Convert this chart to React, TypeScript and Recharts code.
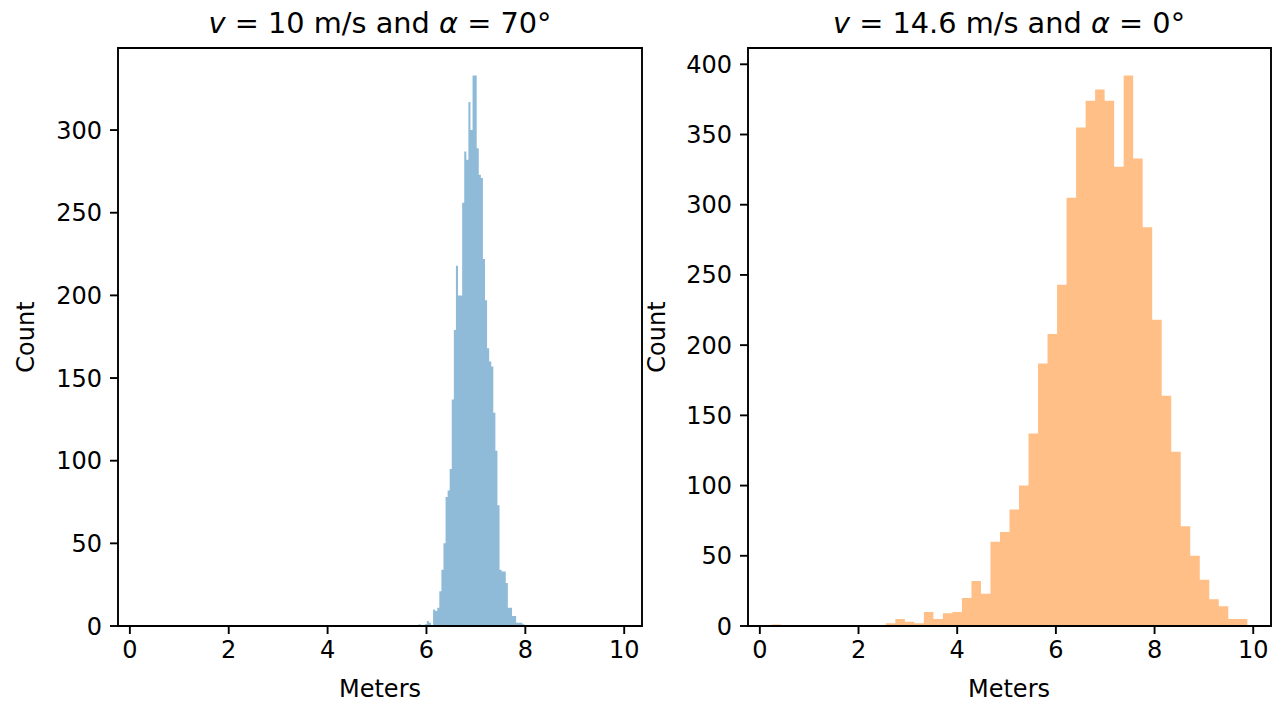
import { Area, ComposedChart, ReferenceArea, XAxis, YAxis } from 'recharts'

// histogram counts
const leftCounts = [
  1, 0, 0, 1, 3, 2, 0, 10, 9, 11, 21, 34, 50, 78, 82, 95, 137, 179, 218, 200,
  200, 256, 287, 282, 317, 300, 333, 333, 289, 273, 271, 222, 197, 168, 160, 157,
  129, 106, 73, 34, 33, 33, 26, 11, 11, 6, 6, 2, 2, 2, 1,
]
const leftBinStart = 5.84
const leftBinWidth = 0.042

const rightCounts = [
  1, 0, 0, 0, 0, 0, 0, 0, 0, 0, 0, 0, 2, 5, 3, 2, 10, 5, 9, 10, 20, 32, 23, 60,
  67, 83, 100, 137, 187, 208, 243, 305, 355, 374, 382, 374, 327, 392, 333, 284,
  218, 164, 124, 71, 50, 33, 19, 14, 5, 5,
]
const rightBinStart = 0.24
const rightBinWidth = 0.1928

const xDomain: [number, number] = [-0.24, 10.36]
const xTicks = [0, 2, 4, 6, 8, 10]
const leftYTicks = [0, 50, 100, 150, 200, 250, 300]
const rightYTicks = [0, 50, 100, 150, 200, 250, 300, 350, 400]

const FONT = '"DejaVu Sans", sans-serif'
const LABEL_SIZE = 24
const TITLE_SIZE = 28.8

function toSteps(counts: number[], start: number, width: number) {
  // one point per bin edge; the last edge repeats the last count so the step closes
  return counts
    .concat([counts[counts.length - 1]])
    .map((count, i) => ({ x: start + i * width, count }))
}

interface PanelProps {
  counts: number[]
  start: number
  width: number
  color: string
  yTicks: number[]
  yMax: number
  chartWidth: number
  marginRight: number
}

function HistPanel({ counts, start, width, color, yTicks, yMax, chartWidth, marginRight }: PanelProps) {
  const data = toSteps(counts, start, width)
  const tickStyle = { fontSize: LABEL_SIZE, fill: '#000', fontFamily: FONT }
  const tickLine = { stroke: '#000', strokeWidth: 1.9 }
  return (
    <ComposedChart
      width={chartWidth}
      height={702}
      data={data}
      margin={{ top: 48, right: marginRight, bottom: 36, left: 0 }}
    >
      <XAxis
        type="number"
        dataKey="x"
        domain={xDomain}
        allowDataOverflow
        ticks={xTicks}
        height={40}
        axisLine={false}
        tickSize={8}
        tickMargin={7}
        tickLine={tickLine}
        tick={tickStyle}
      />
      <YAxis
        type="number"
        domain={[0, yMax]}
        allowDataOverflow
        ticks={yTicks}
        width={118}
        axisLine={false}
        tickSize={8}
        tickMargin={8}
        tickLine={tickLine}
        tick={tickStyle}
      />
      <Area
        type="stepAfter"
        dataKey="count"
        stroke="none"
        fill={color}
        fillOpacity={0.5}
        isAnimationActive={false}
      />
      <ReferenceArea
        x1={xDomain[0]}
        x2={xDomain[1]}
        y1={0}
        y2={yMax}
        fill="none"
        stroke="#000"
        strokeWidth={1.9}
      />
    </ComposedChart>
  )
}

const textBase: React.CSSProperties = {
  position: 'absolute',
  fontFamily: FONT,
  color: '#000',
  whiteSpace: 'nowrap',
  lineHeight: 1,
  transform: 'translate(-50%, -50%)',
}

export default function App() {
  return (
    <div
      style={{
        position: 'absolute',
        left: 0,
        top: 0,
        width: 1277,
        height: 702,
        background: '#fff',
        overflow: 'hidden',
      }}
    >
      <div style={{ position: 'absolute', left: 0, top: 0 }}>
        <HistPanel
          counts={leftCounts}
          start={leftBinStart}
          width={leftBinWidth}
          color="#1f77b4"
          yTicks={leftYTicks}
          yMax={349.65}
          chartWidth={660}
          marginRight={18}
        />
      </div>
      <div style={{ position: 'absolute', left: 630, top: 0 }}>
        <HistPanel
          counts={rightCounts}
          start={rightBinStart}
          width={rightBinWidth}
          color="#ff7f0e"
          yTicks={rightYTicks}
          yMax={411.6}
          chartWidth={647}
          marginRight={6}
        />
      </div>

      <div style={{ ...textBase, left: 380, top: 23, fontSize: TITLE_SIZE }}>
        <i>v</i> = 10 m/s and <i>α</i> = 70°
      </div>
      <div style={{ ...textBase, left: 1009, top: 23, fontSize: TITLE_SIZE }}>
        <i>v</i> = 14.6 m/s and <i>α</i> = 0°
      </div>

      <div style={{ ...textBase, left: 380, top: 689, fontSize: LABEL_SIZE }}>Meters</div>
      <div style={{ ...textBase, left: 1009, top: 689, fontSize: LABEL_SIZE }}>Meters</div>

      <div style={{ ...textBase, left: 26, top: 337, fontSize: LABEL_SIZE, transform: 'translate(-50%, -50%) rotate(-90deg)' }}>
        Count
      </div>
      <div style={{ ...textBase, left: 657, top: 337, fontSize: LABEL_SIZE, transform: 'translate(-50%, -50%) rotate(-90deg)' }}>
        Count
      </div>
    </div>
  )
}
